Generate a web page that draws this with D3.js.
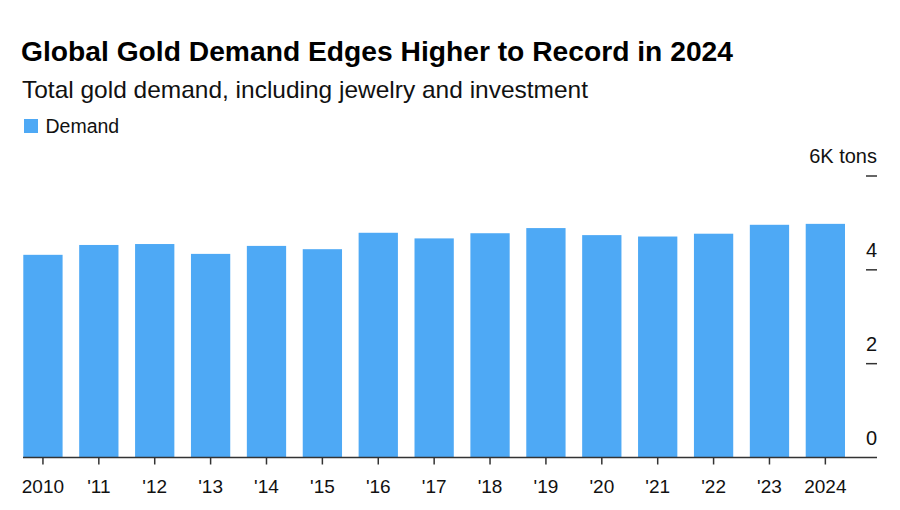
<!DOCTYPE html>
<html><head><meta charset="utf-8">
<script src="https://cdn.jsdelivr.net/npm/d3@7/dist/d3.min.js"></script>
<style>
body{margin:0;background:#fff;}
svg{display:block;font-family:"Liberation Sans",Arial,Helvetica,sans-serif;}
</style></head>
<body>
<svg id="chart" width="900" height="510"></svg>
<script>
const years = ["2010","2011","2012","2013","2014","2015","2016","2017","2018","2019","2020","2021","2022","2023","2024"];
const yearLabels = ["2010","'11","'12","'13","'14","'15","'16","'17","'18","'19","'20","'21","'22","'23","2024"];
const demand = [4.32,4.53,4.55,4.34,4.51,4.44,4.79,4.67,4.78,4.89,4.74,4.71,4.77,4.96,4.98];
const yTicks = [0,2,4,6];
const yTickLabels = ["0","2","4","6K tons"];

const svg = d3.select("#chart");
const barColor = "#4EA9F5";

svg.append("text").attr("x",21).attr("y",61)
  .attr("font-size",27).attr("font-weight","bold").attr("fill","#000")
  .attr("textLength",712).attr("lengthAdjust","spacingAndGlyphs")
  .text("Global Gold Demand Edges Higher to Record in 2024");
svg.append("text").attr("x",22).attr("y",98)
  .attr("font-size",24).attr("fill","#111")
  .attr("textLength",566).attr("lengthAdjust","spacingAndGlyphs")
  .text("Total gold demand, including jewelry and investment");

svg.append("rect").attr("x",24).attr("y",119).attr("width",14).attr("height",14).attr("fill",barColor);
svg.append("text").attr("x",45.5).attr("y",133).attr("font-size",19.5).attr("fill","#111").text("Demand");

const x = d3.scaleBand().domain(years).range([23.3,845]).paddingInner(0.297).paddingOuter(0);
const y = d3.scaleLinear().domain([0,6]).range([457.5,176]);

svg.append("g").selectAll("rect").data(demand).join("rect")
  .attr("x",(d,i)=>x(years[i]))
  .attr("y",d=>y(d))
  .attr("width",x.bandwidth())
  .attr("height",d=>y(0)-y(d))
  .attr("fill",barColor);

// bottom axis
const xAxis = d3.axisBottom(x).tickSize(7).tickSizeOuter(0)
  .tickFormat((d,i)=>yearLabels[i]);
const gx = svg.append("g").attr("transform",`translate(0,${y(0)})`).call(xAxis);
gx.select(".domain").remove();
gx.selectAll(".tick line").attr("stroke","#333").attr("stroke-width",1.5);
gx.selectAll(".tick text").attr("font-size",19).attr("fill","#111").attr("dy",null).attr("y",35)
  .attr("font-family","'Liberation Sans',Arial,sans-serif");
svg.append("line").attr("x1",23).attr("x2",877).attr("y1",y(0)).attr("y2",y(0))
  .attr("stroke","#333").attr("stroke-width",1.5);

// right axis
const gy = svg.append("g");
const tk = gy.selectAll("g").data(yTicks).join("g").attr("transform",d=>`translate(0,${y(d)})`);
tk.filter(d=>d!==0).append("line").attr("x1",866).attr("x2",877).attr("stroke","#333").attr("stroke-width",1.5);
tk.append("text").attr("x",877).attr("y",-13).attr("text-anchor","end")
  .attr("font-size",20).attr("fill","#111").text((d,i)=>yTickLabels[i]);
</script>
</body></html>
